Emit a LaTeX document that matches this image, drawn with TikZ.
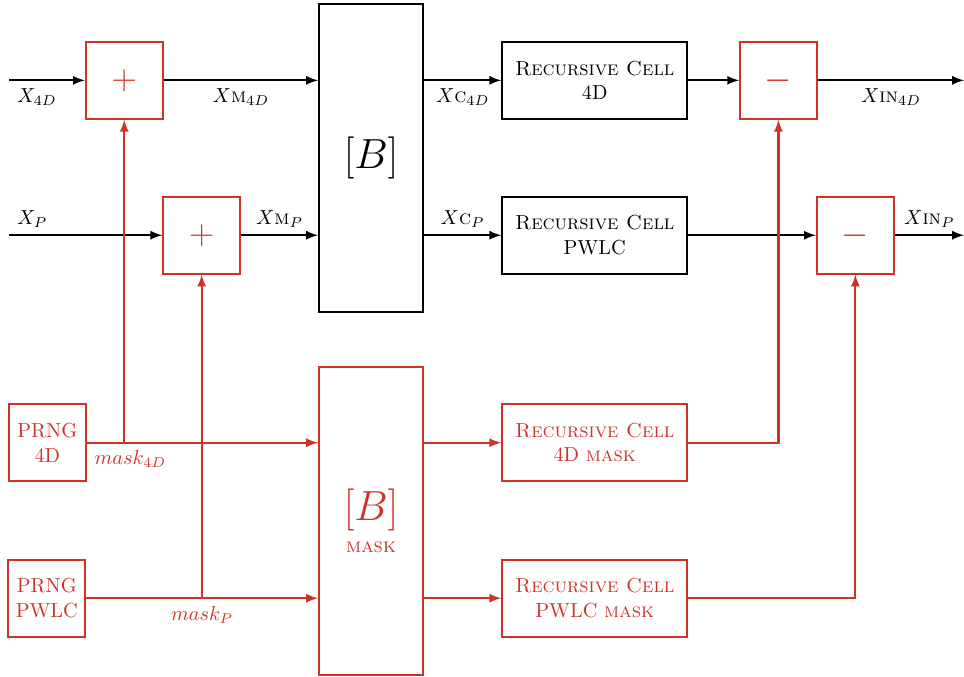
\documentclass[tikz,border=0pt]{standalone}
\usetikzlibrary{calc, positioning, arrows.meta}
\definecolor{maskred}{RGB}{208,50,42}

\begin{document}
\begin{tikzpicture}[line width=1pt, >=latex,
        opbox/.style={draw, rectangle, minimum width=1.33cm, minimum height=1.33cm, font=\LARGE},
        cellbox/.style={draw, rectangle, align=center, minimum width=3.2cm, minimum height=1.33cm},
        bbox/.style={draw, rectangle, align=center, minimum width=1.8cm, minimum height=5.33cm},
        msk/.style={color=maskred}]
        \useasboundingbox (0,0) rectangle (16.68,-11.71);

        % data path
        \node[opbox, msk] (add4d) at (2.15,-1.39) {$+$};
        \node[opbox, msk] (addP) at (3.49,-4.07) {$+$};
        \node[bbox] (bblk) at (6.42,-2.73) {\huge $[B]$};
        \node[cellbox] (cell4d) at (10.29,-1.39) {\textsc{Recursive Cell}\\4D};
        \node[cellbox] (cellP) at (10.29,-4.07) {\textsc{Recursive Cell}\\PWLC};
        \node[opbox, msk] (sub4d) at (13.47,-1.39) {$-$};
        \node[opbox, msk] (subP) at (14.80,-4.07) {$-$};

        % mask path
        \node[opbox, msk, font=\normalsize, align=center] (prng4d) at (0.82,-7.66) {PRNG\\4D};
        \node[opbox, msk, font=\normalsize, align=center] (prngP) at (0.81,-10.35) {PRNG\\PWLC};
        \node[bbox, msk] (bmask) at (6.42,-9.01) {{\huge $[B]$}\\[4pt]\textsc{mask}};
        \node[cellbox, msk] (cell4dm) at (10.29,-7.66) {\textsc{Recursive Cell}\\4D \textsc{mask}};
        \node[cellbox, msk] (cellPm) at (10.29,-10.35) {\textsc{Recursive Cell}\\PWLC \textsc{mask}};

        \coordinate (in4d) at (0.16,-1.39);
        \coordinate (inP) at (0.16,-4.07);
        \coordinate (out4d) at (16.68,-1.39);
        \coordinate (outP) at (16.68,-4.07);
        \coordinate (br4d) at (add4d.south |- prng4d.east);
        \coordinate (brP) at (addP.south |- prngP.east);

        \draw[->] (in4d) node[below right] {$X_{4D}$} -- (add4d);
        \draw[->] (add4d) -- node[below] {$X\textsc{m}_{4D}$} (add4d -| bblk.west);
        \draw[->] (inP) node[above right] {$X_P$} -- (addP);
        \draw[->] (addP) -- node[above] {$X\textsc{m}_P$} (addP -| bblk.west);
        \draw[->] (add4d -| bblk.east) -- node[below] {$X\textsc{c}_{4D}$} (cell4d);
        \draw[->] (addP -| bblk.east) -- node[above] {$X\textsc{c}_P$} (cellP);
        \draw[->] (cell4d) -- (sub4d);
        \draw[->] (cellP) -- (subP);
        \draw[->] (sub4d) -- node[below] {$X\textsc{in}_{4D}$} (out4d);
        \draw[->] (subP) -- node[above] {$X\textsc{in}_P$} (outP);

        \draw[->, msk] (prng4d.east) node[below right] {$mask_{4D}$} -- (prng4d.east -| bmask.west);
        \draw[->, msk] (prngP.east) -- node[below] {$mask_P$} (prngP.east -| bmask.west);
        \draw[->, msk] (br4d) -- (add4d.south);
        \draw[->, msk] (brP) -- (addP.south);
        \draw[->, msk] (prng4d.east -| bmask.east) -- (cell4dm);
        \draw[->, msk] (prngP.east -| bmask.east) -- (cellPm);
        \draw[->, msk] (cell4dm.east) -| (sub4d.south);
        \draw[->, msk] (cellPm.east) -| (subP.south);
    \end{tikzpicture}
\end{document}
